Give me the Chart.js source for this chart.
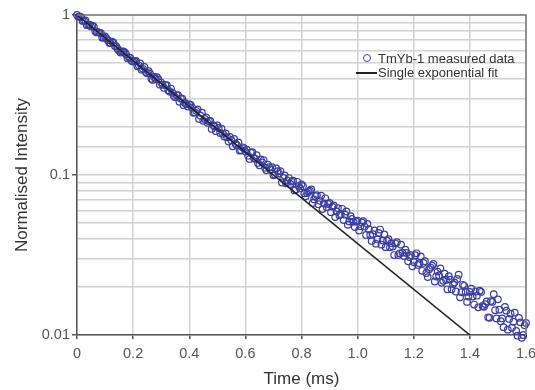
<!DOCTYPE html>
<html>
<head>
<meta charset="utf-8">
<script src="https://cdn.jsdelivr.net/npm/chart.js@4.4.1/dist/chart.umd.min.js"></script>
<style>
    html, body { margin: 0; padding: 0; background: #fff; }
    #wrap { position: relative; width: 535px; height: 390px; }
    #legend { position: absolute; left: 356px; top: 51px; font: 13px "Liberation Sans", Arial, sans-serif; color: #333; }
    .row { display: flex; align-items: center; height: 14px; white-space: nowrap; }
    .icon { width: 22px; height: 14px; position: relative; }
    .dot { position: absolute; left: 7px; top: 3px; width: 6px; height: 6px; border: 1.3px solid #3b3e9e; border-radius: 50%; }
    .line { position: absolute; left: 0; top: 7px; width: 21px; height: 1.5px; background: #222; }
</style>
</head>
<body>
<div id="wrap">
    <canvas id="myChart" width="535" height="390"></canvas>
    <div id="legend">
        <div class="row"><span class="icon"><span class="dot"></span></span><span>TmYb-1 measured data</span></div>
        <div class="row"><span class="icon"><span class="line"></span></span><span>Single exponential fit</span></div>
    </div>
</div>
<script>
// measured decay (time in ms, normalised intensity)
const timeMs = [
    0.000, 0.005, 0.010, 0.015, 0.020, 0.025, 0.030, 0.035, 0.040, 0.045,
    0.050, 0.055, 0.060, 0.065, 0.070, 0.075, 0.080, 0.085, 0.090, 0.095,
    0.100, 0.105, 0.110, 0.115, 0.120, 0.125, 0.130, 0.135, 0.140, 0.145,
    0.150, 0.155, 0.160, 0.165, 0.170, 0.175, 0.180, 0.185, 0.190, 0.195,
    0.200, 0.205, 0.210, 0.215, 0.220, 0.225, 0.230, 0.235, 0.240, 0.245,
    0.250, 0.255, 0.260, 0.265, 0.270, 0.275, 0.280, 0.285, 0.290, 0.295,
    0.300, 0.305, 0.310, 0.315, 0.320, 0.325, 0.330, 0.335, 0.340, 0.345,
    0.350, 0.355, 0.360, 0.365, 0.370, 0.375, 0.380, 0.385, 0.390, 0.395,
    0.400, 0.405, 0.410, 0.415, 0.420, 0.425, 0.430, 0.435, 0.440, 0.445,
    0.450, 0.455, 0.460, 0.465, 0.470, 0.475, 0.480, 0.485, 0.490, 0.495,
    0.500, 0.505, 0.510, 0.515, 0.520, 0.525, 0.530, 0.535, 0.540, 0.545,
    0.550, 0.555, 0.560, 0.565, 0.570, 0.575, 0.580, 0.585, 0.590, 0.595,
    0.600, 0.605, 0.610, 0.615, 0.620, 0.625, 0.630, 0.635, 0.640, 0.645,
    0.650, 0.655, 0.660, 0.665, 0.670, 0.675, 0.680, 0.685, 0.690, 0.695,
    0.700, 0.705, 0.710, 0.715, 0.720, 0.725, 0.730, 0.735, 0.740, 0.745,
    0.750, 0.755, 0.760, 0.765, 0.770, 0.775, 0.780, 0.785, 0.790, 0.795,
    0.800, 0.805, 0.810, 0.815, 0.820, 0.825, 0.830, 0.835, 0.840, 0.845,
    0.850, 0.855, 0.860, 0.865, 0.870, 0.875, 0.880, 0.885, 0.890, 0.895,
    0.900, 0.905, 0.910, 0.915, 0.920, 0.925, 0.930, 0.935, 0.940, 0.945,
    0.950, 0.955, 0.960, 0.965, 0.970, 0.975, 0.980, 0.985, 0.990, 0.995,
    1.000, 1.005, 1.010, 1.015, 1.020, 1.025, 1.030, 1.035, 1.040, 1.045,
    1.050, 1.055, 1.060, 1.065, 1.070, 1.075, 1.080, 1.085, 1.090, 1.095,
    1.100, 1.105, 1.110, 1.115, 1.120, 1.125, 1.130, 1.135, 1.140, 1.145,
    1.150, 1.155, 1.160, 1.165, 1.170, 1.175, 1.180, 1.185, 1.190, 1.195,
    1.200, 1.205, 1.210, 1.215, 1.220, 1.225, 1.230, 1.235, 1.240, 1.245,
    1.250, 1.255, 1.260, 1.265, 1.270, 1.275, 1.280, 1.285, 1.290, 1.295,
    1.300, 1.305, 1.310, 1.315, 1.320, 1.325, 1.330, 1.335, 1.340, 1.345,
    1.350, 1.355, 1.360, 1.365, 1.370, 1.375, 1.380, 1.385, 1.390, 1.395,
    1.400, 1.405, 1.410, 1.415, 1.420, 1.425, 1.430, 1.435, 1.440, 1.445,
    1.450, 1.455, 1.460, 1.465, 1.470, 1.475, 1.480, 1.485, 1.490, 1.495,
    1.500, 1.505, 1.510, 1.515, 1.520, 1.525, 1.530, 1.535, 1.540, 1.545,
    1.550, 1.555, 1.560, 1.565, 1.570, 1.575, 1.580, 1.585, 1.590, 1.595,
    1.600
];
const intensity = [
    1.000, 0.974, 0.977, 0.971, 0.918, 0.921, 0.924, 0.864, 0.868, 0.871,
    0.848, 0.859, 0.845, 0.791, 0.778, 0.781, 0.776, 0.771, 0.721, 0.724,
    0.734, 0.715, 0.696, 0.671, 0.667, 0.682, 0.671, 0.641, 0.637, 0.614,
    0.598, 0.582, 0.591, 0.592, 0.583, 0.568, 0.536, 0.544, 0.540, 0.516,
    0.512, 0.517, 0.516, 0.478, 0.485, 0.498, 0.455, 0.461, 0.474, 0.440,
    0.432, 0.445, 0.431, 0.399, 0.393, 0.410, 0.398, 0.409, 0.396, 0.367,
    0.378, 0.366, 0.350, 0.365, 0.364, 0.338, 0.332, 0.347, 0.327, 0.312,
    0.306, 0.315, 0.315, 0.287, 0.300, 0.300, 0.273, 0.282, 0.277, 0.268,
    0.276, 0.274, 0.264, 0.245, 0.246, 0.252, 0.257, 0.224, 0.235, 0.245,
    0.218, 0.224, 0.229, 0.212, 0.217, 0.218, 0.194, 0.205, 0.201, 0.188,
    0.204, 0.197, 0.183, 0.195, 0.181, 0.174, 0.182, 0.172, 0.162, 0.173,
    0.165, 0.151, 0.168, 0.157, 0.153, 0.160, 0.142, 0.143, 0.149, 0.147,
    0.140, 0.144, 0.132, 0.126, 0.138, 0.139, 0.128, 0.126, 0.133, 0.119,
    0.115, 0.125, 0.120, 0.124, 0.111, 0.107, 0.116, 0.112, 0.108, 0.112,
    0.0995, 0.1008, 0.110, 0.1058, 0.102, 0.1056, 0.0897, 0.0958, 0.0993, 0.0887,
    0.0923, 0.0957, 0.0878, 0.0911, 0.0921, 0.0801, 0.0812, 0.0907, 0.0855, 0.0824,
    0.0874, 0.0851, 0.0769, 0.0736, 0.0773, 0.0786, 0.0799, 0.0812, 0.0669, 0.0704,
    0.0737, 0.0749, 0.0657, 0.0690, 0.0742, 0.0612, 0.0664, 0.0715, 0.0629, 0.0659,
    0.0669, 0.0586, 0.0634, 0.0645, 0.0546, 0.0592, 0.0620, 0.0561, 0.0571, 0.0615,
    0.0523, 0.0565, 0.0592, 0.0488, 0.0513, 0.0553, 0.0531, 0.0510, 0.0473, 0.0512,
    0.0519, 0.0450, 0.0478, 0.0505, 0.0515, 0.0476, 0.0422, 0.0495, 0.0459, 0.0422,
    0.0387, 0.0427, 0.0450, 0.0372, 0.0397, 0.0434, 0.0456, 0.0367, 0.0390, 0.0425,
    0.0354, 0.0389, 0.0397, 0.0353, 0.0375, 0.0357, 0.0316, 0.0373, 0.0380, 0.0316,
    0.0324, 0.0367, 0.0327, 0.0312, 0.0341, 0.0326, 0.0289, 0.0307, 0.0315, 0.0269,
    0.0286, 0.0315, 0.0324, 0.0274, 0.0281, 0.0310, 0.0252, 0.0282, 0.0289, 0.0244,
    0.0230, 0.0258, 0.0264, 0.0271, 0.0278, 0.0216, 0.0232, 0.0249, 0.0236, 0.0261,
    0.0212, 0.0218, 0.0242, 0.0221, 0.0193, 0.0233, 0.0222, 0.0193, 0.0208, 0.0213,
    0.0187, 0.0224, 0.0238, 0.0172, 0.0185, 0.0206, 0.0203, 0.0186, 0.0161, 0.0174,
    0.0186, 0.0195, 0.0174, 0.0155, 0.0187, 0.0176, 0.0149, 0.0189, 0.0186, 0.0152,
    0.0150, 0.0156, 0.0162, 0.0129, 0.0128, 0.0163, 0.0161, 0.0180, 0.0143, 0.0127,
    0.0167, 0.0144, 0.0122, 0.0127, 0.0112, 0.0150, 0.0142, 0.0108, 0.0126, 0.0136,
    0.0111, 0.0121, 0.0138, 0.0106, 0.0099, 0.0128, 0.0120, 0.0096, 0.0100, 0.0115,
    0.0119
];

// single exponential fit: straight line on the log axis
const fitTime = [0, 1.4];
const fitIntensity = [1, 0.01];

const xTickLabels = ["0", "0.2", "0.4", "0.6", "0.8", "1.0", "1.2", "1.4", "1.6"];
const yMajorTicks = [0.01, 0.1, 1];
const yTickLabels = ["0.01", "0.1", "1"];

const fontFamily = '"Liberation Sans", Arial, sans-serif';

const majorIndex = function (v) {
    return yMajorTicks.findIndex((m) => Math.abs(v - m) / m < 1e-6);
};

// grey frame on top and right like the original
const framePlugin = {
    id: "frame",
    afterDatasetsDraw(chart) {
        const { ctx, chartArea: a } = chart;
        ctx.save();
        ctx.strokeStyle = "#7a7a7a";
        ctx.lineWidth = 1.5;
        ctx.beginPath();
        ctx.moveTo(a.left, a.top);
        ctx.lineTo(a.right, a.top);
        ctx.lineTo(a.right, a.bottom);
        ctx.stroke();
        ctx.restore();
    }
};

const ctx = document.querySelector("#myChart");

new Chart(ctx, {
    type: "scatter",
    data: {
        datasets: [
            {
                label: "Single exponential fit",
                data: fitTime.map((t, i) => ({ x: t, y: fitIntensity[i] })),
                showLine: true,
                borderColor: "#222",
                borderWidth: 1.6,
                pointRadius: 0,
                order: 0,
            },
            {
                label: "TmYb-1 measured data",
                data: timeMs.map((t, i) => ({ x: t, y: intensity[i] })),
                pointStyle: "circle",
                pointRadius: 3.3,
                borderWidth: 1.2,
                borderColor: "#3b3e9e",
                backgroundColor: "rgba(255,255,255,0)",
                clip: false,
                order: 1,
            },
        ],
    },
    options: {
        responsive: false,
        animation: false,
        layout: { padding: { top: 15, right: 9, left: 0, bottom: 0 } },
        plugins: {
            legend: { display: false },
            tooltip: { enabled: false },
        },
        scales: {
            x: {
                type: "linear",
                min: 0,
                max: 1.6,
                afterFit: (s) => { s.height = 55; s.paddingLeft = 0; s.paddingRight = 0; },
                border: { color: "#555", width: 1.5 },
                grid: { color: "#d2d2d2", lineWidth: 1.5, tickLength: 4, tickColor: "#555" },
                ticks: {
                    stepSize: 0.2,
                    autoSkip: false,
                    maxRotation: 0,
                    padding: 6,
                    color: "#555",
                    font: { family: fontFamily, size: 14.5 },
                    callback: (v, i) => xTickLabels[i],
                },
                title: {
                    display: true,
                    text: "Time (ms)",
                    color: "#333",
                    font: { family: fontFamily, size: 17 },
                    padding: { top: 0, bottom: 0 },
                },
            },
            y: {
                type: "logarithmic",
                min: 0.01,
                max: 1,
                afterFit: (s) => { s.width = 77; },
                border: { color: "#555", width: 1.5 },
                grid: {
                    color: "#d2d2d2",
                    lineWidth: 1.5,
                    tickLength: 5,
                    tickColor: (c) => (majorIndex(c.tick.value) >= 0 ? "#555" : "rgba(0,0,0,0)"),
                },
                ticks: {
                    autoSkip: false,
                    padding: 2,
                    color: "#555",
                    font: { family: fontFamily, size: 14.5 },
                    callback: (v) => {
                        const k = majorIndex(v);
                        return k >= 0 ? yTickLabels[k] : "";
                    },
                },
                title: {
                    display: true,
                    text: "Normalised Intensity",
                    color: "#333",
                    font: { family: fontFamily, size: 17 },
                    padding: { top: 12, bottom: 0 },
                },
            },
        },
    },
    plugins: [framePlugin],
});
</script>
</body>
</html>
